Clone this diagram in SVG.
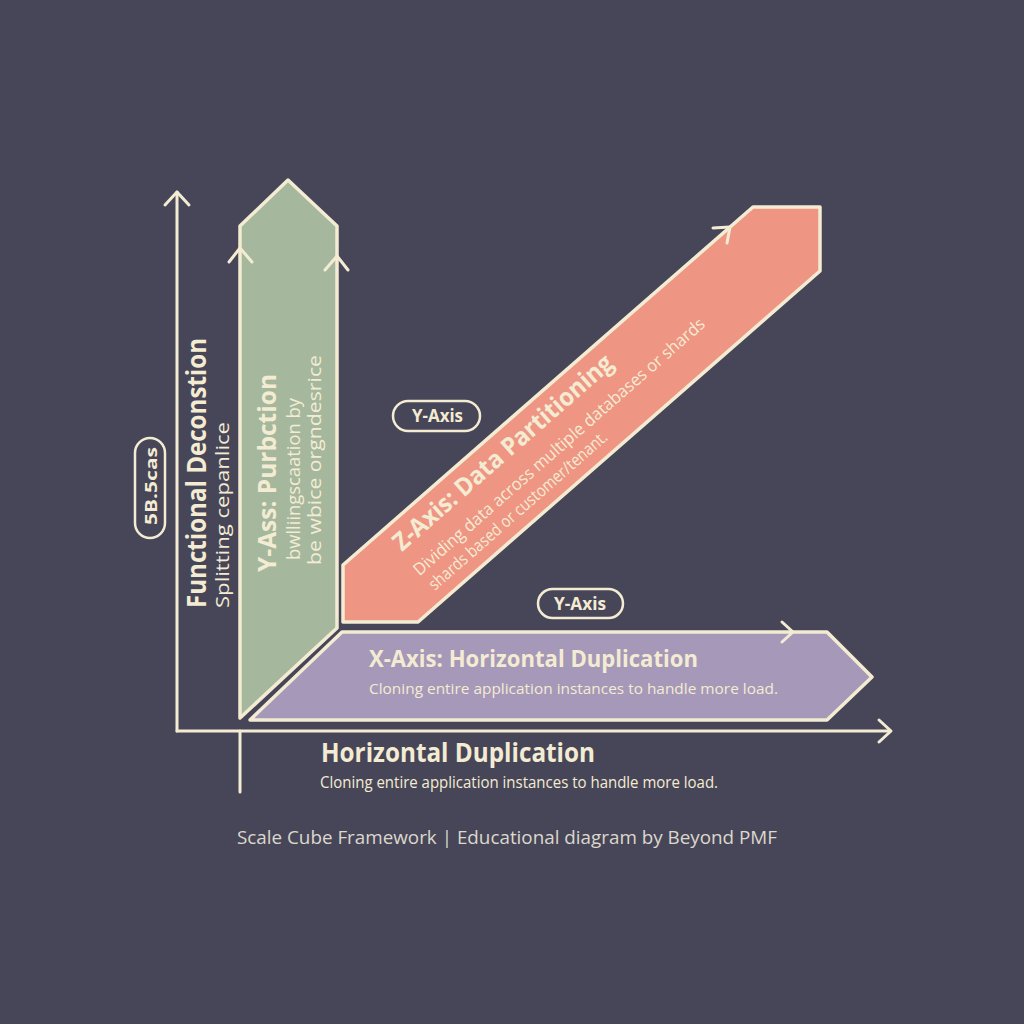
<svg xmlns="http://www.w3.org/2000/svg" width="1024" height="1024" viewBox="0 0 1024 1024">
<style>
.ln{fill:none;stroke:#f4ecd2;stroke-width:3;stroke-linecap:round;stroke-linejoin:round}
.shape{stroke:#f4ecd2;stroke-width:3.5;stroke-linejoin:round}
.t{font-family:"Open Sans","Noto Sans",sans-serif;fill:#f4ecd2}
.b{font-weight:700}
.pill{fill:none;stroke:#f4ecd2;stroke-width:2.5}
</style>
<rect width="1024" height="1024" fill="#474659"/>
<g id="connectors">
<line class="ln" x1="177" y1="731" x2="177" y2="192"/>
<polyline class="ln" points="165,205 177,192 189,205"/>
<line class="ln" x1="177" y1="731" x2="890" y2="731"/>
<polyline class="ln" points="879,720 891,731 879,742"/>
<line class="ln" x1="240" y1="731" x2="240" y2="792"/>
</g>
<g id="y-axis-node">
<polygon class="shape" fill="#a5b89e" points="240,226 288,180 337,226 337,628 240,718"/>
<polyline class="ln" points="229,262 240,248 252,262"/>
<polyline class="ln" points="325,270 337,256 348,270"/>
<text class="t b" transform="translate(276,572) rotate(-90)" font-size="25" textLength="198" lengthAdjust="spacingAndGlyphs">Y-Ass: Purbction</text>
<text class="t" transform="translate(300,560) rotate(-90)" font-size="19" textLength="162" lengthAdjust="spacingAndGlyphs">bwlliingscaation by</text>
<text class="t" transform="translate(321,565) rotate(-90)" font-size="19" textLength="210" lengthAdjust="spacingAndGlyphs">be wbice orgndesrice</text>
</g>
<g id="z-axis-node">
<polygon class="shape" fill="#ef9584" points="343,565 753,207 820,207 820,271 418,622 343,622"/>
<polyline class="ln" points="713,228 730,227 727,243"/>
<g transform="translate(402,552) rotate(-41.2)">
<text class="t b" x="0" y="0" font-size="25" textLength="283" lengthAdjust="spacingAndGlyphs">Z-Axis: Data Partitioning</text>
<text class="t" x="-3" y="30" font-size="17" textLength="381" lengthAdjust="spacingAndGlyphs">Dividing data across multiple databases or shards</text>
<text class="t" x="-1" y="51" font-size="17" textLength="231" lengthAdjust="spacingAndGlyphs">shards based or customer/tenant.</text>
</g>
</g>
<g id="x-axis-node">
<polygon class="shape" fill="#a698b9" points="342,632 827,632 872,677 827,720 250,720"/>
<polyline class="ln" points="782,622 793,632 782,642"/>
<text class="t b" x="369" y="667" font-size="23" textLength="329" lengthAdjust="spacingAndGlyphs">X-Axis: Horizontal Duplication</text>
<text class="t" x="369" y="694" font-size="15" textLength="409" lengthAdjust="spacingAndGlyphs">Cloning entire application instances to handle more load.</text>
</g>
<g id="pill-y-axis-1">
<rect class="pill" x="393" y="401" width="87" height="30" rx="15"/>
<text class="t b" x="412" y="422" font-size="17" textLength="51" lengthAdjust="spacingAndGlyphs">Y-Axis</text>
</g>
<g id="pill-y-axis-2">
<rect class="pill" x="538" y="589" width="85" height="29" rx="14.5"/>
<text class="t b" x="554" y="610" font-size="17" textLength="52" lengthAdjust="spacingAndGlyphs">Y-Axis</text>
</g>
<g id="pill-left">
<rect class="pill" x="135" y="438" width="30" height="100" rx="15"/>
<text class="t b" transform="translate(157,525) rotate(-90)" font-size="16" textLength="78" lengthAdjust="spacingAndGlyphs">5B.5cas</text>
</g>
<g id="left-axis-label">
<text class="t b" transform="translate(206,608) rotate(-90)" font-size="26" textLength="270" lengthAdjust="spacingAndGlyphs">Functional Deconstion</text>
<text class="t" transform="translate(229,608) rotate(-90)" font-size="19" textLength="186" lengthAdjust="spacingAndGlyphs">Splitting cepanlice</text>
</g>
<g id="bottom-axis-label">
<text class="t b" x="321" y="762" font-size="27" textLength="274" lengthAdjust="spacingAndGlyphs">Horizontal Duplication</text>
<text class="t" x="320" y="788" font-size="16" textLength="398" lengthAdjust="spacingAndGlyphs">Cloning entire application instances to handle more load.</text>
</g>
<g id="footer">
<text class="t" x="237" y="844" font-size="18" style="fill:#dcd8cc" textLength="540" lengthAdjust="spacingAndGlyphs">Scale Cube Framework | Educational diagram by Beyond PMF</text>
</g>
</svg>
